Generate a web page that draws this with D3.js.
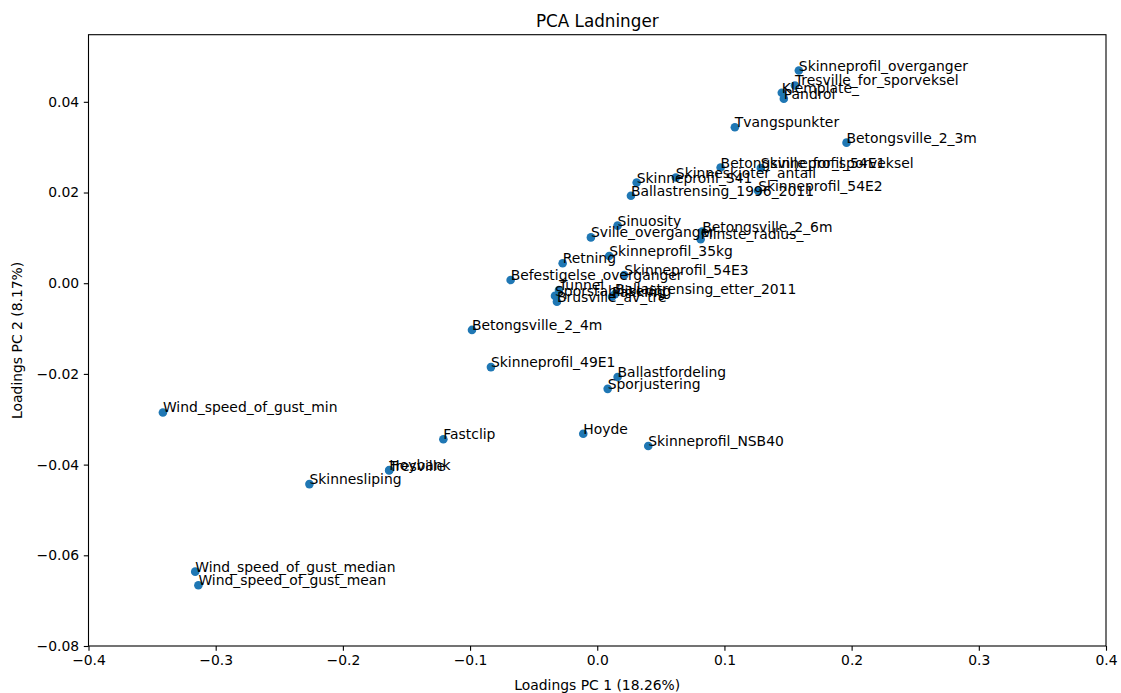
<!DOCTYPE html>
<html>
<head>
<meta charset="utf-8">
<script src="https://cdn.jsdelivr.net/npm/d3@7"></script>
<style>
  html, body { margin: 0; padding: 0; background: #fff; }
  text { font-family: "DejaVu Sans", sans-serif; fill: #000; }
</style>
</head>
<body>
<svg id="chart" width="1121" height="693"></svg>
<script>
// PCA loadings for the first two principal components
const variables = [
  "Skinneprofil_overganger", "Tresville_for_sporveksel", "Klemplate_", "Pandrol",
  "Tvangspunkter", "Betongsville_2_3m", "Betongsville_for_sporveksel", "Skinneprofil_54E1",
  "Skinneskjoter_antall", "Skinneprofil_S41", "Ballastrensing_1996_2011", "Skinneprofil_54E2",
  "Sinuosity", "Sville_overganger", "Betongsville_2_6m", "Minste_radius_",
  "Skinneprofil_35kg", "Retning", "Befestigelse_overganger", "Skinneprofil_54E3",
  "Tunnel", "Sporstabilisering", "Brusville_av_tre", "Pakking",
  "Ballastrensing_etter_2011", "Betongsville_2_4m", "Skinneprofil_49E1", "Ballastfordeling",
  "Sporjustering", "Hoyde", "Skinneprofil_NSB40", "Fastclip",
  "Wind_speed_of_gust_min", "Hoybank", "Tresville", "Skinnesliping",
  "Wind_speed_of_gust_median", "Wind_speed_of_gust_mean"
];
const loadingsPC1 = [
  0.1585, 0.1554, 0.1451, 0.1467,
  0.1082, 0.1960, 0.0970, 0.1286,
  0.0618, 0.0310, 0.0265, 0.1265,
  0.0160, -0.0050, 0.0825, 0.0813,
  0.0094, -0.0272, -0.0681, 0.0212,
  -0.0301, -0.0332, -0.0317, 0.0116,
  0.0139, -0.0985, -0.0836, 0.0160,
  0.0082, -0.0110, 0.0401, -0.1210,
  -0.3415, -0.1635, -0.1636, -0.2263,
  -0.3161, -0.3136
];
const loadingsPC2 = [
  0.0469, 0.0436, 0.0420, 0.0407,
  0.0344, 0.0310, 0.0255, 0.0254,
  0.0233, 0.0222, 0.0193, 0.0204,
  0.0127, 0.0101, 0.0114, 0.0097,
  0.0060, 0.0044, 0.0007, 0.0018,
  -0.0015, -0.0028, -0.0041, -0.0030,
  -0.0024, -0.0103, -0.0185, -0.0207,
  -0.0233, -0.0332, -0.0359, -0.0344,
  -0.0285, -0.0412, -0.0413, -0.0443,
  -0.0636, -0.0666
];
const xTicks = [-0.4, -0.3, -0.2, -0.1, 0.0, 0.1, 0.2, 0.3, 0.4];
const yTicks = [-0.08, -0.06, -0.04, -0.02, 0.00, 0.02, 0.04];

const titleText = "PCA Ladninger";
const xLabel = "Loadings PC 1 (18.26%)";
const yLabel = "Loadings PC 2 (8.17%)";

const svg = d3.select("#chart");
const plot = { left: 88.5, right: 1106, top: 34.7, bottom: 646 };
const fontSize = 13.9;

const x = d3.scaleLinear().domain([-0.4, 0.4]).range([plot.left, plot.right]);
const y = d3.scaleLinear().domain([-0.08, 0.0548]).range([plot.bottom, plot.top]);

const minus = s => s.replace("-", "\u2212");

// axes
const xAxis = d3.axisBottom(x).tickValues(xTicks).tickFormat(d => minus(d3.format(".1f")(d)))
  .tickSizeOuter(0).tickSizeInner(4.7).tickPadding(4.7);
const yAxis = d3.axisLeft(y).tickValues(yTicks).tickFormat(d => minus(d3.format(".2f")(d)))
  .tickSizeOuter(0).tickSizeInner(4.7).tickPadding(4.7);

const gx = svg.append("g").attr("transform", `translate(0,${plot.bottom})`).call(xAxis);
const gy = svg.append("g").attr("transform", `translate(${plot.left},0)`).call(yAxis);
[gx, gy].forEach(g => {
  g.select(".domain").remove();
  g.selectAll(".tick line").attr("stroke", "#000").attr("stroke-width", 1.1);
  g.selectAll(".tick text").attr("font-size", fontSize).attr("font-family", "DejaVu Sans").attr("fill", "#000");
});

// frame
svg.append("rect")
  .attr("x", plot.left).attr("y", plot.top)
  .attr("width", plot.right - plot.left).attr("height", plot.bottom - plot.top)
  .attr("fill", "none").attr("stroke", "#000").attr("stroke-width", 1.1);

// points and their labels
const points = variables.map((name, i) => ({ name, pc1: loadingsPC1[i], pc2: loadingsPC2[i] }));

svg.append("g").selectAll("circle").data(points).join("circle")
  .attr("cx", d => x(d.pc1)).attr("cy", d => y(d.pc2))
  .attr("r", 4.3).attr("fill", "#1f77b4");

svg.append("g").selectAll("text").data(points).join("text")
  .attr("x", d => x(d.pc1)).attr("y", d => y(d.pc2))
  .attr("font-size", fontSize)
  .attr("fill", "#1a1a1a")
  .text(d => d.name);

// title and axis labels
svg.append("text").attr("x", (plot.left + plot.right) / 2).attr("y", 26.5)
  .attr("text-anchor", "middle").attr("font-size", 16.8).text(titleText);
svg.append("text").attr("x", (plot.left + plot.right) / 2).attr("y", 690)
  .attr("text-anchor", "middle").attr("font-size", fontSize).text(xLabel);
svg.append("text")
  .attr("transform", `translate(22,${(plot.top + plot.bottom) / 2}) rotate(-90)`)
  .attr("text-anchor", "middle").attr("font-size", fontSize).text(yLabel);
</script>
</body>
</html>
